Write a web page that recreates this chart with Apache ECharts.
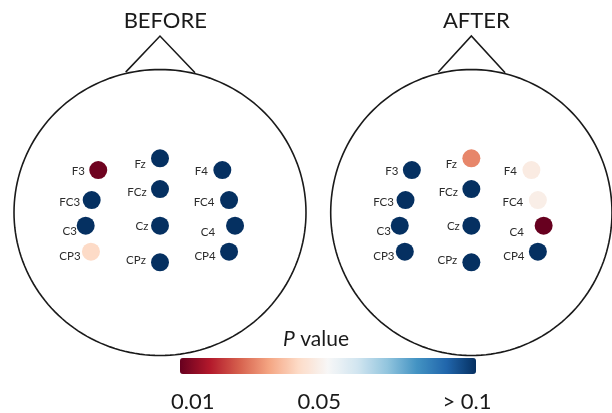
<!DOCTYPE html>
<html>
<head>
<meta charset="utf-8">
<script src="https://cdn.jsdelivr.net/npm/echarts@6/dist/echarts.min.js"></script>
<style>
  html, body { margin: 0; padding: 0; background: #fff; }
  #chart { width: 612px; height: 413px; }
</style>
</head>
<body>
<div id="chart"></div>
<script>
// Electrode montage, in head units (head radius = 1, +y towards the nose)
const ELECTRODES = ['F3', 'FC3', 'C3', 'CP3', 'Fz', 'FCz', 'Cz', 'CPz', 'F4', 'FC4', 'C4', 'CP4'];
const POS_X = [-0.423, -0.468, -0.509, -0.473, 0, 0, 0, 0, 0.427, 0.473, 0.514, 0.473];
const POS_Y = [0.297, 0.087, -0.092, -0.274, 0.379, 0.164, -0.092, -0.348, 0.297, 0.087, -0.092, -0.274];

// P values per electrode (0.1 stands for "> 0.1")
const P_BEFORE = [0.011, 0.1, 0.1, 0.046, 0.1, 0.1, 0.1, 0.1, 0.1, 0.1, 0.1, 0.1];
const P_AFTER  = [0.1, 0.1, 0.1, 0.1, 0.033, 0.1, 0.1, 0.1, 0.051, 0.052, 0.01, 0.1];

const PANELS = ['BEFORE', 'AFTER'];
const COLORBAR_TICKS = ['0.01', '0.05', '> 0.1'];
const P_MIN = 0.01, P_MAX = 0.1;

// Label placement next to each dot (pixels, relative to dot centre)
const LABEL_DX = [-20, -22, -16, -21, -20, -23, -18, -24, -21, -25, -27, -24];
const LABEL_DY = [1, 2, 6, 5, 5.5, 3, 1, -1.5, 1, 2, 7, 5];

const FONT = 'Lato, "Open Sans", sans-serif';
const HEAD_CX = [160, 476.7];
const HEAD_CY = 212.5, HEAD_RX = 146, HEAD_RY = 143;
const DOT = 18;

const RDBU = ['#67001f', '#b2182b', '#d6604d', '#f4a582', '#fddbc7', '#f7f7f7',
              '#d1e5f0', '#92c5de', '#4393c3', '#2166ac', '#053061'];

const clampP = p => Math.min(Math.max(p, P_MIN), P_MAX);

function headOutline(params, api) {
  const pts = [];
  for (let k = 0; k <= 180; k++) {
    const a = 2 * Math.PI * k / 180;
    pts.push(api.coord([Math.cos(a), Math.sin(a)]));
  }
  const nose = [api.coord([-0.235, 0.982]), api.coord([0, 1.234]), api.coord([0.24, 0.977])];
  return {
    type: 'group',
    children: [
      { type: 'polygon', shape: { points: pts }, style: { fill: 'none', stroke: '#1a1a1a', lineWidth: 1.6 } },
      { type: 'polyline', shape: { points: nose }, style: { fill: null, stroke: '#1a1a1a', lineWidth: 1.6 } }
    ]
  };
}

const pSets = [P_BEFORE, P_AFTER];

const series = [];
PANELS.forEach((name, i) => {
  series.push({
    type: 'custom',
    xAxisIndex: i, yAxisIndex: i,
    silent: true,
    z: 1,
    renderItem: headOutline,
    data: [[0, 0]]
  });
});
PANELS.forEach((name, i) => {
  series.push({
    type: 'scatter',
    name: name,
    xAxisIndex: i, yAxisIndex: i,
    symbol: 'circle',
    symbolSize: DOT,
    z: 3,
    silent: true,
    itemStyle: { opacity: 1 },
    label: {
      show: true,
      formatter: '{b}',
      color: '#2b2b2b',
      fontSize: 11.5,
      fontFamily: FONT,
      align: 'center',
      verticalAlign: 'middle'
    },
    data: ELECTRODES.map((el, j) => ({
      name: el,
      value: [POS_X[j], POS_Y[j], clampP(pSets[i][j])],
      label: { position: [DOT / 2 + LABEL_DX[j], DOT / 2 + LABEL_DY[j]] }
    }))
  });
});

const textStyle = (x, y, text, size, extra) => Object.assign({
  type: 'text', x: x, y: y, silent: true,
  style: Object.assign({ text: text, font: size + 'px ' + FONT, fill: '#1a1a1a', align: 'center', verticalAlign: 'middle' }, extra || {})
});

const tickX = [192.7, 319.3, 467];

const option = {
  animation: false,
  backgroundColor: '#ffffff',
  grid: HEAD_CX.map(cx => ({
    left: cx - HEAD_RX, top: HEAD_CY - HEAD_RY, width: 2 * HEAD_RX, height: 2 * HEAD_RY
  })),
  xAxis: HEAD_CX.map((cx, i) => ({ type: 'value', gridIndex: i, min: -1, max: 1, show: false })),
  yAxis: HEAD_CX.map((cx, i) => ({ type: 'value', gridIndex: i, min: -1, max: 1, show: false })),
  visualMap: {
    type: 'continuous',
    min: P_MIN, max: P_MAX,
    dimension: 2,
    seriesIndex: [2, 3],
    orient: 'horizontal',
    left: 180, top: 358,
    itemWidth: 16, itemHeight: 296,
    padding: 0,
    calculable: false,
    hoverLink: false,
    inRange: { color: RDBU }
  },
  graphic: [
    textStyle(165.3, 21, PANELS[0], 22),
    textStyle(476.3, 21, PANELS[1], 22),
    {
      type: 'text', x: 316, y: 339, silent: true,
      style: {
        text: '{i|P} value',
        font: '21px ' + FONT, fill: '#1a1a1a', align: 'center', verticalAlign: 'middle',
        rich: { i: { fontStyle: 'italic', fontSize: 21, fontFamily: FONT, fill: '#1a1a1a' } }
      }
    }
  ].concat(COLORBAR_TICKS.map((t, k) => textStyle(tickX[k], 402, t, 22))),
  series: series
};

const chart = echarts.init(document.getElementById('chart'), null, { renderer: 'canvas' });
chart.setOption(option);
</script>
</body>
</html>
